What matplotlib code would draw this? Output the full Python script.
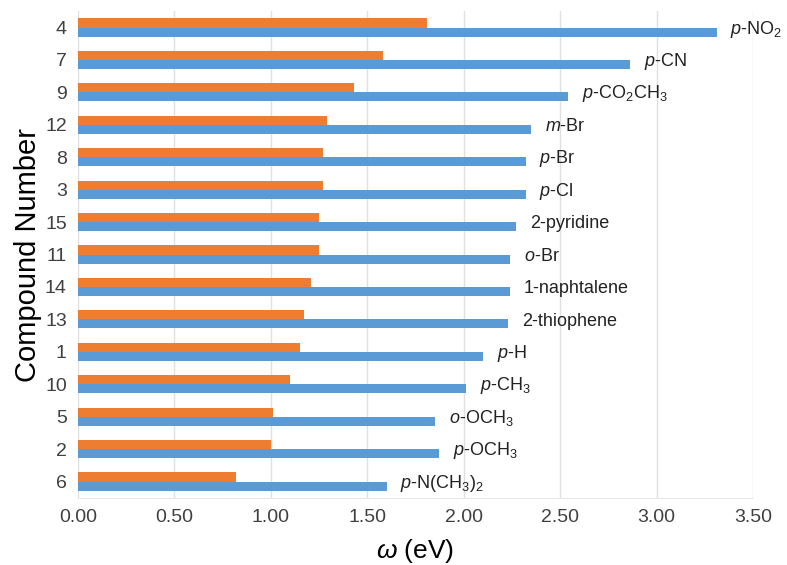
import numpy as np
import matplotlib.pyplot as plt
from matplotlib.ticker import FormatStrFormatter

plt.rcParams['font.family'] = ['Liberation Sans', 'DejaVu Sans']
plt.rcParams['mathtext.fontset'] = 'custom'
plt.rcParams['mathtext.rm'] = 'Liberation Sans'
plt.rcParams['mathtext.it'] = 'Liberation Sans:italic'

# compound numbers, top to bottom as in the figure
compounds = ['4', '7', '9', '12', '8', '3', '15', '11', '14', '13', '1', '10', '5', '2', '6']
substituents = [r'$p$-$\mathrm{NO_2}$', r'$p$-CN', r'$p$-$\mathrm{CO_2CH_3}$', r'$m$-Br',
                r'$p$-Br', r'$p$-Cl', '2-pyridine', r'$o$-Br', '1-naphtalene',
                '2-thiophene', r'$p$-H', r'$p$-$\mathrm{CH_3}$', r'$o$-$\mathrm{OCH_3}$',
                r'$p$-$\mathrm{OCH_3}$', r'$p$-$\mathrm{N(CH_3)_2}$']
omega_blue = [3.31, 2.86, 2.54, 2.35, 2.32, 2.32, 2.27, 2.24, 2.24, 2.23,
              2.10, 2.01, 1.85, 1.87, 1.60]
omega_orange = [1.81, 1.58, 1.43, 1.29, 1.27, 1.27, 1.25, 1.25, 1.21, 1.17,
                1.15, 1.10, 1.01, 1.00, 0.82]

blue = '#5B9BD5'
orange = '#ED7D31'

fig = plt.figure(figsize=(7.87, 5.65), dpi=100)
ax = fig.add_axes([0.099, 0.119, 0.858, 0.861])

n = len(compounds)
y = np.arange(n)
h = 0.28
ax.barh(y - h / 2, omega_orange, height=h, color=orange, zorder=3)
ax.barh(y + h / 2, omega_blue, height=h, color=blue, zorder=3)

for yi, v, lab in zip(y, omega_blue, substituents):
    ax.annotate(lab, (v, yi + 0.05), xytext=(10, 0), textcoords='offset points',
                ha='left', va='center', fontsize=13, color='#222222')

ax.set_ylim(n - 0.5, -0.5)
ax.set_xlim(0, 3.5)
ax.set_xticks(np.arange(0, 3.51, 0.5))
ax.xaxis.set_major_formatter(FormatStrFormatter('%.2f'))
ax.set_yticks(y)
ax.set_yticklabels(compounds)
ax.tick_params(axis='both', length=0, labelsize=14, colors='#404040', pad=8)

ax.grid(axis='x', color='#E0E0E0', linewidth=1, zorder=0)
for s in ['top', 'right', 'left']:
    ax.spines[s].set_visible(False)
ax.spines['bottom'].set_color('#E8E8E8')

ax.set_xlabel(r'$\omega$ (eV)', fontsize=19, labelpad=8)
ax.set_ylabel('Compound Number', fontsize=21, labelpad=2)

fig.savefig('out.png', dpi=100)
